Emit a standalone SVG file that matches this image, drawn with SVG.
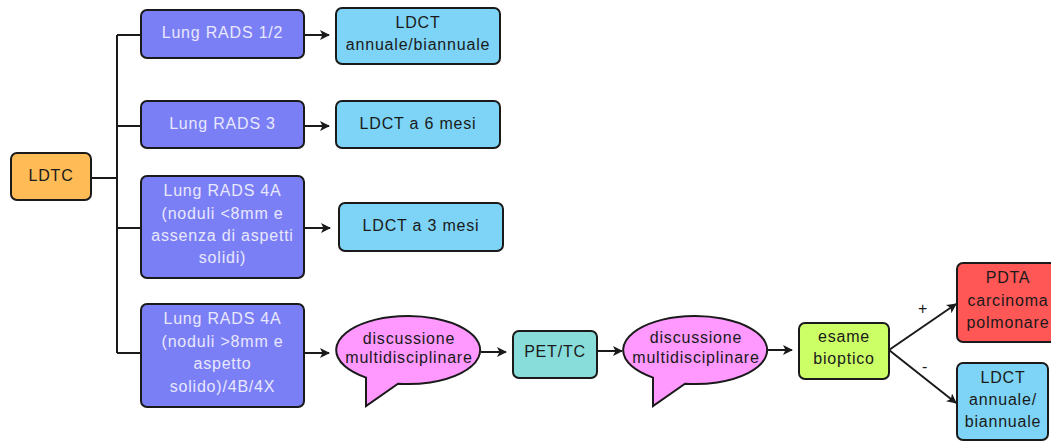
<svg xmlns="http://www.w3.org/2000/svg" width="1051" height="441" viewBox="0 0 1051 441">
  <style>
    .box { stroke: #1a1a1a; stroke-width: 2; }
    .purple { fill: #7b7ff5; }
    .blue { fill: #7dd4f6; }
    .orange { fill: #ffbb55; }
    .pink { fill: #ff99ff; }
    .teal { fill: #88dddb; }
    .green { fill: #ccff66; }
    .red { fill: #ff5656; }
    text { font-family: "Liberation Sans", Arial, sans-serif; font-size: 16px; text-anchor: middle; fill: #1a1a1a; letter-spacing: 0.8px; }
    .light { fill: #e8e8ff; }
    .conn { fill: none; stroke: #1a1a1a; stroke-width: 2; }
  </style>
  <defs>
    <marker id="arrow" viewBox="0 0 10 10" refX="9" refY="5" markerWidth="5" markerHeight="5" orient="auto" markerUnits="strokeWidth">
      <path d="M0,0 L10,5 L0,10 L2.5,5 Z" fill="#1a1a1a"/>
    </marker>
    <!-- speech bubble: ellipse with a tail pointing down-left -->
    <path id="bubble" d="M-42,27.6 A72,34 0 1 1 -10,33.7 L-42,56 Z"/>
  </defs>

  <!-- connectors -->
  <g id="connectors">
    <path class="conn" d="M91,178 H117"/>
    <path class="conn" d="M117,35 V353"/>
    <path class="conn" d="M117,35 H141"/>
    <path class="conn" d="M117,126 H141"/>
    <path class="conn" d="M117,228 H141"/>
    <path class="conn" d="M117,353 H141"/>
    <path class="conn" d="M304,35 H329" marker-end="url(#arrow)"/>
    <path class="conn" d="M304,126 H329" marker-end="url(#arrow)"/>
    <path class="conn" d="M304,228 H330" marker-end="url(#arrow)"/>
    <path class="conn" d="M304,353 H329" marker-end="url(#arrow)"/>
    <path class="conn" d="M481,352 H506" marker-end="url(#arrow)"/>
    <path class="conn" d="M597,351 H622" marker-end="url(#arrow)"/>
    <path class="conn" d="M767,350 H792" marker-end="url(#arrow)"/>
    <path class="conn" d="M889,350 L956,304" marker-end="url(#arrow)"/>
    <path class="conn" d="M889,350 L956,403" marker-end="url(#arrow)"/>
    <text x="923" y="314">+</text>
    <text x="925" y="372">-</text>
  </g>

  <g id="ldtc">
    <rect class="box orange" x="11" y="153" width="80" height="47" rx="6"/>
    <text x="51" y="181">LDTC</text>
  </g>

  <g id="rads12">
    <rect class="box purple" x="141" y="10" width="163" height="48" rx="6"/>
    <text class="light" x="222.5" y="38">Lung RADS 1/2</text>
  </g>
  <g id="rads3">
    <rect class="box purple" x="141" y="101" width="163" height="47" rx="6"/>
    <text class="light" x="222.5" y="129">Lung RADS 3</text>
  </g>
  <g id="rads4a-small">
    <rect class="box purple" x="141" y="176" width="163" height="102" rx="6"/>
    <text class="light" x="222.5" y="196">Lung RADS 4A</text>
    <text class="light" x="222.5" y="219">(noduli &lt;8mm e</text>
    <text class="light" x="222.5" y="241">assenza di aspetti</text>
    <text class="light" x="222.5" y="263">solidi)</text>
  </g>
  <g id="rads4a-large">
    <rect class="box purple" x="141" y="304" width="163" height="103" rx="6"/>
    <text class="light" x="222.5" y="324">Lung RADS 4A</text>
    <text class="light" x="222.5" y="347">(noduli &gt;8mm e</text>
    <text class="light" x="222.5" y="369">aspetto</text>
    <text class="light" x="222.5" y="392">solido)/4B/4X</text>
  </g>

  <g id="ldct-annual">
    <rect class="box blue" x="336" y="8" width="164" height="56" rx="6"/>
    <text x="418" y="28">LDCT</text>
    <text x="418" y="50">annuale/biannuale</text>
  </g>
  <g id="ldct-6">
    <rect class="box blue" x="336" y="101" width="164" height="47" rx="6"/>
    <text x="418" y="129">LDCT a 6 mesi</text>
  </g>
  <g id="ldct-3">
    <rect class="box blue" x="339" y="203" width="164" height="48" rx="6"/>
    <text x="421" y="231">LDCT a 3 mesi</text>
  </g>

  <g id="discussion-1">
    <use href="#bubble" class="box pink" transform="translate(408,350)"/>
    <text x="409" y="344">discussione</text>
    <text x="409" y="363">multidisciplinare</text>
  </g>
  <g id="pet-tc">
    <rect class="box teal" x="513" y="331" width="84" height="47" rx="6"/>
    <text x="555" y="357">PET/TC</text>
  </g>
  <g id="discussion-2">
    <use href="#bubble" class="box pink" transform="translate(695,350)"/>
    <text x="696" y="343">discussione</text>
    <text x="696" y="363">multidisciplinare</text>
  </g>
  <g id="biopsy">
    <rect class="box green" x="799" y="323" width="90" height="56" rx="6"/>
    <text x="844" y="342">esame</text>
    <text x="844" y="364">bioptico</text>
  </g>

  <g id="pdta">
    <rect class="box red" x="957" y="263" width="102" height="79" rx="6"/>
    <text x="1008" y="283">PDTA</text>
    <text x="1008" y="306">carcinoma</text>
    <text x="1008" y="328">polmonare</text>
  </g>
  <g id="ldct-followup">
    <rect class="box blue" x="957" y="363" width="91" height="77" rx="6"/>
    <text x="1003" y="383">LDCT</text>
    <text x="1003" y="405">annuale/</text>
    <text x="1003" y="427">biannuale</text>
  </g>
</svg>
